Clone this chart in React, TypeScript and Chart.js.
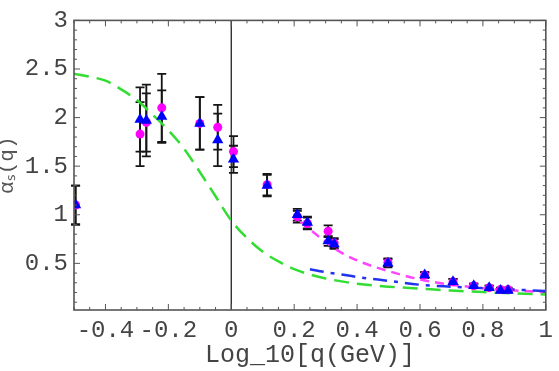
import React, { useEffect, useRef } from 'react';
import { Chart, registerables } from 'chart.js';

Chart.register(...registerables);

// ---- axis ticks ----
const xTickValues = [-0.4, -0.2, 0, 0.2, 0.4, 0.6, 0.8, 1];
const xTickLabels = ['-0.4', '-0.2', '0', '0.2', '0.4', '0.6', '0.8', '1'];
const yTickValues = [0.5, 1, 1.5, 2, 2.5, 3];
const yTickLabels = ['0.5', '1', '1.5', '2', '2.5', '3'];

// ---- data points (x = log10 q) ----
const pointX = [-0.495, -0.29, -0.27, -0.221, -0.1, -0.043, 0.007, 0.114, 0.21, 0.242, 0.308, 0.327, 0.498, 0.615, 0.705, 0.771, 0.82, 0.856, 0.88];
const magentaY = [1.1, 1.83, 1.95, 2.1, 1.94, 1.9, 1.65, 1.31, 0.98, 0.91, 0.83, 0.71, 0.51, 0.38, 0.31, 0.27, 0.25, 0.23, 0.23];
const magentaErr = [0.2, 0.33, 0.3, 0.35, 0.27, 0.23, 0.16, 0.11, 0.06, 0.06, 0.06, 0.05, 0.04, 0.03, 0.03, 0.02, 0.02, 0.02, 0.02];
const blueY = [1.1, 1.98, 1.97, 2.01, 1.94, 1.77, 1.57, 1.3, 1.0, 0.92, 0.73, 0.7, 0.5, 0.38, 0.31, 0.27, 0.25, 0.22, 0.22];
const blueErr = [0.2, 0.33, 0.37, 0.27, 0.27, 0.27, 0.14, 0.11, 0.06, 0.06, 0.05, 0.05, 0.04, 0.03, 0.03, 0.02, 0.02, 0.02, 0.02];

// ---- curves ----
const greenX = [-0.5, -0.45, -0.4, -0.35, -0.3, -0.25, -0.2, -0.15, -0.1, -0.05, 0, 0.05, 0.1, 0.15, 0.2, 0.25, 0.3, 0.4, 0.5, 0.6, 0.7, 0.8, 0.9, 1.0];
const greenY = [2.45, 2.42, 2.38, 2.29, 2.18, 2.03, 1.87, 1.68, 1.44, 1.19, 0.94, 0.76, 0.62, 0.52, 0.44, 0.385, 0.345, 0.29, 0.26, 0.24, 0.22, 0.205, 0.19, 0.18];
const magentaCurveX = [0.22, 0.25, 0.3, 0.35, 0.4, 0.45, 0.5, 0.6, 0.7, 0.8, 0.9, 1.0];
const magentaCurveY = [0.93, 0.85, 0.72, 0.61, 0.53, 0.47, 0.42, 0.335, 0.28, 0.245, 0.22, 0.205];
const blueCurveX = [0.25, 0.3, 0.35, 0.4, 0.5, 0.6, 0.7, 0.8, 0.9, 1.0];
const blueCurveY = [0.44, 0.41, 0.385, 0.36, 0.32, 0.28, 0.26, 0.245, 0.23, 0.215];

const xMin = -0.5, xMax = 1, yMin = 0.02, yMax = 3;
const xMinorStep = 0.05, yMinorStep = 0.1;

const toPts = (xs: number[], ys: number[]) => xs.map((x, i) => ({ x, y: ys[i] }));

const framePlugin = {
  id: 'mmaFrame',
  beforeDatasetsDraw(chart: any) {
    const { ctx, chartArea: a, scales } = chart;
    const x = scales.x, y = scales.y;
    ctx.save();
    const x0 = x.getPixelForValue(0);
    ctx.strokeStyle = '#222';
    ctx.lineWidth = 1.3;
    ctx.beginPath();
    ctx.moveTo(x0, a.top);
    ctx.lineTo(x0, a.bottom);
    ctx.stroke();
    // error bars
    ctx.strokeStyle = '#151515';
    ctx.lineWidth = 1.8;
    const bar = (xv: number, yv: number, e: number) => {
      const px = x.getPixelForValue(xv);
      const top = y.getPixelForValue(yv + e);
      const bot = y.getPixelForValue(yv - e);
      ctx.beginPath();
      ctx.moveTo(px, top);
      ctx.lineTo(px, bot);
      ctx.moveTo(px - 4.5, top);
      ctx.lineTo(px + 4.5, top);
      ctx.moveTo(px - 4.5, bot);
      ctx.lineTo(px + 4.5, bot);
      ctx.stroke();
    };
    pointX.forEach((xv, i) => {
      bar(xv, magentaY[i], magentaErr[i]);
      bar(xv, blueY[i], blueErr[i]);
    });
    ctx.restore();
  },
  afterDatasetsDraw(chart: any) {
    const { ctx, chartArea: a, scales } = chart;
    const x = scales.x, y = scales.y;
    ctx.save();
    ctx.strokeStyle = '#555';
    ctx.lineWidth = 1.6;
    ctx.strokeRect(a.left, a.top, a.right - a.left, a.bottom - a.top);
    ctx.lineWidth = 1;
    ctx.beginPath();
    const isMajor = (v: number, majors: number[]) => majors.some((m) => Math.abs(m - v) < 1e-6);
    for (let k = Math.ceil(xMin / xMinorStep - 1e-6); k * xMinorStep <= xMax + 1e-6; k++) {
      const v = k * xMinorStep;
      const px = x.getPixelForValue(v);
      const len = isMajor(v, xTickValues) ? 6 : 3;
      ctx.moveTo(px, a.bottom);
      ctx.lineTo(px, a.bottom - len);
      ctx.moveTo(px, a.top);
      ctx.lineTo(px, a.top + len);
    }
    for (let k = Math.ceil(yMin / yMinorStep - 1e-6); k * yMinorStep <= yMax + 1e-6; k++) {
      const v = k * yMinorStep;
      const py = y.getPixelForValue(v);
      const len = isMajor(v, yTickValues) ? 6 : 3;
      ctx.moveTo(a.left, py);
      ctx.lineTo(a.left + len, py);
      ctx.moveTo(a.right, py);
      ctx.lineTo(a.right - len, py);
    }
    ctx.stroke();
    ctx.restore();
  },
};

export default function App() {
  const ref = useRef<HTMLCanvasElement | null>(null);
  useEffect(() => {
    document.body.style.margin = '0';
    const canvas = ref.current;
    if (!canvas) return;
    const tickFont = { family: 'Liberation Mono', size: 24 };
    const chart = new Chart(canvas, {
      type: 'scatter',
      data: {
        datasets: [
          {
            label: 'blue points',
            data: toPts(pointX, blueY),
            pointStyle: 'triangle',
            pointRadius: 6.5,
            backgroundColor: '#0000ff',
            borderColor: '#0000ff',
            borderWidth: 0,
            showLine: false,
          },
          {
            label: 'magenta points',
            data: toPts(pointX, magentaY),
            pointStyle: 'circle',
            pointRadius: 4.5,
            backgroundColor: '#ff00ff',
            borderColor: '#ff00ff',
            borderWidth: 0,
            showLine: false,
          },
          {
            label: 'blue curve',
            data: toPts(blueCurveX, blueCurveY),
            showLine: true,
            borderColor: '#2233ee',
            borderWidth: 2.5,
            borderDash: [14, 7, 4, 7],
            pointRadius: 0,
            cubicInterpolationMode: 'monotone',
            fill: false,
          },
          {
            label: 'magenta curve',
            data: toPts(magentaCurveX, magentaCurveY),
            showLine: true,
            borderColor: '#ff44ff',
            borderWidth: 2.5,
            borderDash: [9, 6],
            pointRadius: 0,
            cubicInterpolationMode: 'monotone',
            fill: false,
          },
          {
            label: 'green curve',
            data: toPts(greenX, greenY),
            showLine: true,
            borderColor: '#33dd33',
            borderWidth: 2.5,
            borderDash: [15, 8],
            pointRadius: 0,
            cubicInterpolationMode: 'monotone',
            fill: false,
          },
        ],
      },
      options: {
        animation: false,
        responsive: false,
        events: [],
        layout: { padding: { left: 0, right: 11, top: 15, bottom: 0 } },
        plugins: { legend: { display: false }, tooltip: { enabled: false } },
        scales: {
          x: {
            type: 'linear',
            min: xMin,
            max: xMax,
            afterBuildTicks: (s: any) => {
              s.ticks = xTickValues.map((v) => ({ value: v }));
            },
            afterFit: (s: any) => {
              s.height = 61;
            },
            grid: { display: false, drawTicks: false },
            border: { display: false },
            ticks: {
              autoSkip: false,
              maxRotation: 0,
              padding: 6,
              color: '#444',
              font: tickFont,
              callback: (v: any) => {
                const i = xTickValues.findIndex((t) => Math.abs(t - Number(v)) < 1e-9);
                return i >= 0 ? xTickLabels[i] : '';
              },
            },
            title: {
              display: true,
              text: 'Log_10[q(GeV)]',
              color: '#444',
              font: { family: 'Liberation Mono', size: 25, lineHeight: 1 },
              padding: { top: 0, bottom: 3 },
            },
          },
          y: {
            type: 'linear',
            min: yMin,
            max: yMax,
            afterBuildTicks: (s: any) => {
              s.ticks = yTickValues.map((v) => ({ value: v }));
            },
            afterFit: (s: any) => {
              s.width = 74;
            },
            grid: { display: false, drawTicks: false },
            border: { display: false },
            ticks: {
              autoSkip: false,
              padding: 6,
              color: '#444',
              font: tickFont,
              callback: (v: any) => {
                const i = yTickValues.findIndex((t) => Math.abs(t - Number(v)) < 1e-9);
                return i >= 0 ? yTickLabels[i] : '';
              },
            },
            title: {
              display: true,
              text: 'αₛ(q)',
              color: '#555',
              font: { family: 'Liberation Mono', size: 21, lineHeight: 1 },
              padding: { top: -3, bottom: 0 },
            },
          },
        },
      },
      plugins: [framePlugin],
    } as any);
    return () => chart.destroy();
  }, []);
  return (
    <div style={{ width: 559, height: 371 }}>
      <canvas ref={ref} width={559} height={371} style={{ display: 'block' }} />
    </div>
  );
}
